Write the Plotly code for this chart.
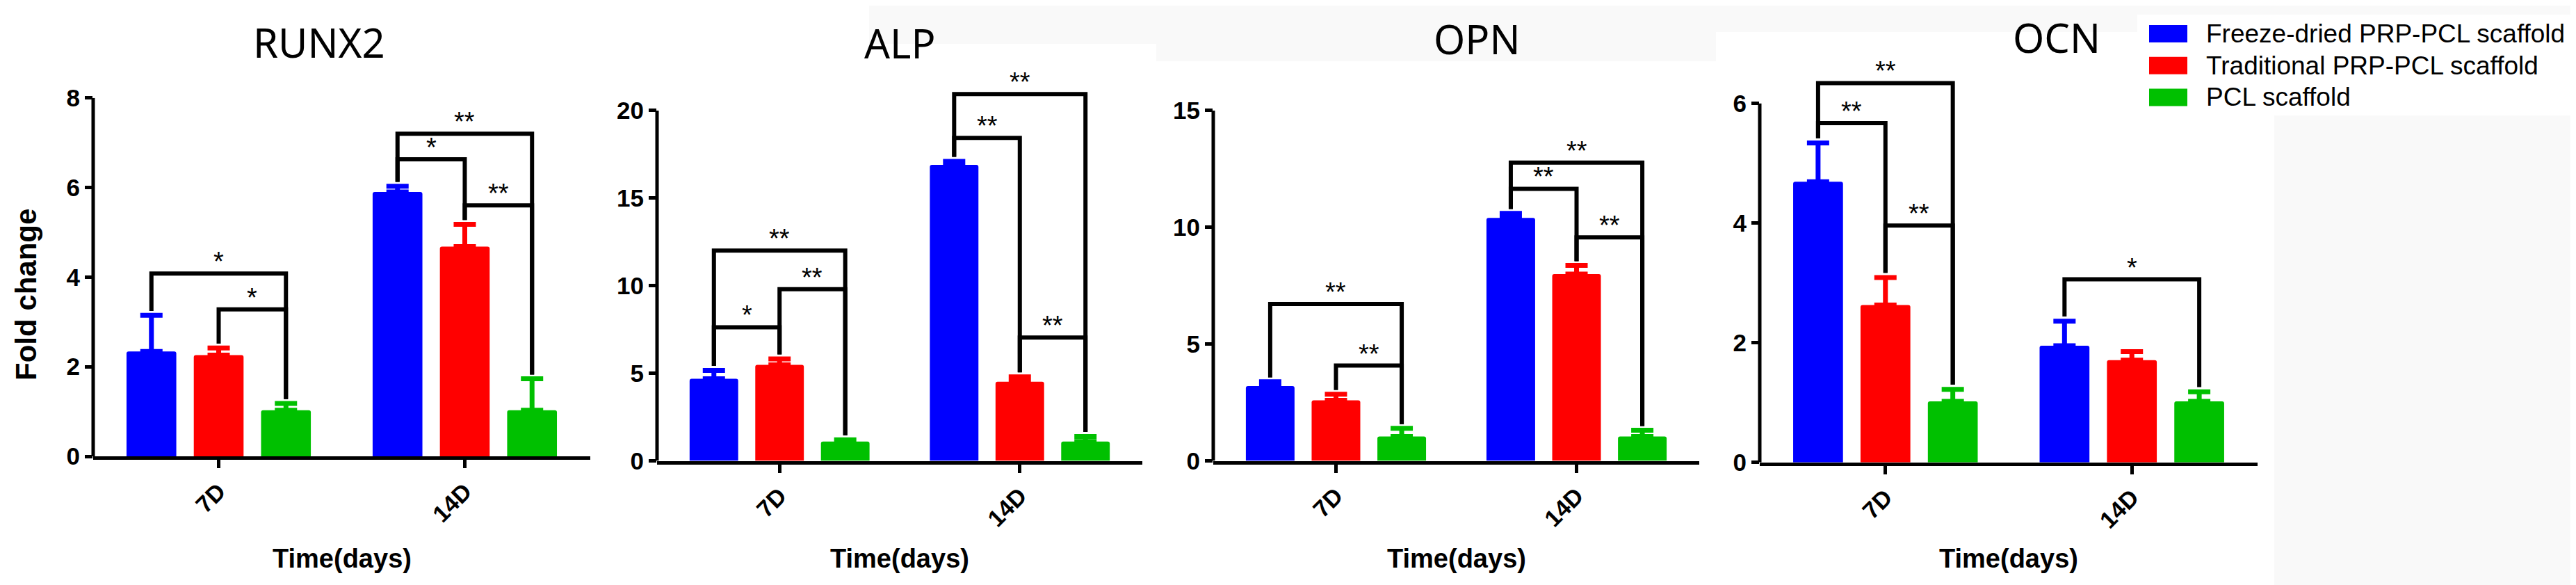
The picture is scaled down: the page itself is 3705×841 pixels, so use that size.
import plotly.graph_objects as go

W, H = 3705, 841

days = ["7D", "14D"]
groups = ["Freeze-dried PRP-PCL scaffold", "Traditional PRP-PCL scaffold", "PCL scaffold"]
colors = ["#0000ff", "#ff0000", "#00c000"]
genes = ["RUNX2", "ALP", "OPN", "OCN"]

# mean fold change per group (rows) and day (columns), with the upper error
runx2_mean = [[2.34, 5.90], [2.26, 4.68], [1.03, 1.03]]
runx2_err = [[0.81, 0.13], [0.16, 0.50], [0.15, 0.70]]
alp_mean = [[4.69, 16.9], [5.48, 4.52], [1.10, 1.10]]
alp_err = [[0.47, 0.20], [0.34, 0.28], [0.10, 0.29]]
opn_mean = [[3.20, 10.4], [2.59, 8.00], [1.04, 1.04]]
opn_err = [[0.19, 0.20], [0.26, 0.37], [0.35, 0.27]]
ocn_mean = [[4.69, 1.95], [2.63, 1.71], [1.02, 1.02]]
ocn_err = [[0.65, 0.41], [0.46, 0.14], [0.20, 0.16]]

# significance brackets: (day, from group, to group, height, label)
runx2_sig = [(0, 0, 2, 4.08, "*"), (0, 1, 2, 3.28, "*"),
             (1, 0, 2, 7.20, "**"), (1, 0, 1, 6.63, "*"), (1, 1, 2, 5.60, "**")]
alp_sig = [(0, 0, 2, 12.0, "**"), (0, 0, 1, 7.63, "*"), (0, 1, 2, 9.80, "**"),
           (1, 0, 2, 20.94, "**"), (1, 0, 1, 18.44, "**"), (1, 1, 2, 7.04, "**")]
opn_sig = [(0, 0, 2, 6.72, "**"), (0, 1, 2, 4.08, "**"),
           (1, 0, 2, 12.77, "**"), (1, 0, 1, 11.65, "**"), (1, 1, 2, 9.57, "**")]
ocn_sig = [(0, 0, 2, 6.34, "**"), (0, 0, 1, 5.67, "**"), (0, 1, 2, 3.96, "**"),
           (1, 0, 2, 3.06, "*")]

y_ticks = [[0, 2, 4, 6, 8], [0, 5, 10, 15, 20], [0, 5, 10, 15], [0, 2, 4, 6]]
y_max = [8.0, 21.5, 15.0, 6.6]

means = [runx2_mean, alp_mean, opn_mean, ocn_mean]
errs = [runx2_err, alp_err, opn_err, ocn_err]
sigs = [runx2_sig, alp_sig, opn_sig, ocn_sig]

# panel geometry in pixels: left, right, y of zero, pixels per unit
panels = [(126, 841, 648, 64.4), (937, 1635, 654.5, 25.18),
          (1737, 2436, 654.5, 33.57), (2523, 3239, 656.7, 86.0)]
title_pos = [(451, 52), (1286, 54), (2116, 48), (2950, 46)]

BARGAP = 0.18
slot = (1 - BARGAP) / 3

bold = "Liberation Sans"
fig = go.Figure()
shapes = []
annotations = []

# faint grey patches of the original screenshot
for x0, y0, x1, y1 in [(1242, 0, 1655, 55), (1655, 0, 2460, 80), (2460, 0, 3705, 13),
                       (2460, 13, 3066, 38), (3263, 158, 3705, 841)]:
    shapes.append(dict(type="rect", xref="paper", yref="paper", layer="below",
                       x0=x0 / W, x1=x1 / W, y0=1 - y0 / H, y1=1 - y1 / H,
                       fillcolor="#f9f9f9", line=dict(width=0)))

for i in range(4):
    ax = "" if i == 0 else str(i + 1)
    left, right, zero, ppu = panels[i]
    for g in range(3):
        fig.add_trace(go.Bar(
            x=days, y=means[i][g], name=groups[g], marker_color=colors[g],
            marker_line_width=0, marker_cornerradius=3, showlegend=False,
            error_y=dict(type="data", array=errs[i][g], arrayminus=[0, 0], symmetric=False,
                         color=colors[g], thickness=7, width=16),
            xaxis="x" + ax, yaxis="y" + ax))

    top_px = zero - y_max[i] * ppu
    fig.layout["xaxis" + ax] = dict(
        domain=[left / W, right / W], anchor="y" + ax, type="category",
        range=[-0.51, 1.51], showline=True, linewidth=5, linecolor="black",
        ticks="outside", ticklen=12, tickwidth=5, tickcolor="black", tickangle=-45,
        tickfont=dict(family=bold, size=34, color="black", weight="bold"),
        showgrid=False, zeroline=False, fixedrange=True, automargin=False)
    fig.layout["yaxis" + ax] = dict(
        domain=[1 - zero / H, 1 - top_px / H], anchor="x" + ax,
        range=[0, y_max[i]], tickvals=y_ticks[i], showline=False,
        ticks="outside", ticklen=11, tickwidth=5, tickcolor="black",
        tickfont=dict(family=bold, size=35, color="black", weight="bold"),
        showgrid=False, zeroline=False, fixedrange=True, automargin=False)

    # y axis line stops at the top tick
    shapes.append(dict(type="line", xref="x" + ax + " domain", yref="y" + ax,
                       x0=0, x1=0, y0=0, y1=y_ticks[i][-1],
                       line=dict(color="black", width=5)))

    gap = 0.012 * y_max[i]
    for day, ga, gb, h, lab in sigs[i]:
        xa = day + (ga - 1) * slot
        xb = day + (gb - 1) * slot
        ya = means[i][ga][day] + errs[i][ga][day] + gap
        yb = means[i][gb][day] + errs[i][gb][day] + gap
        shapes.append(dict(type="path", xref="x" + ax, yref="y" + ax,
                           path=f"M {xa},{ya} L {xa},{h} L {xb},{h} L {xb},{yb}",
                           line=dict(color="black", width=6)))
        annotations.append(dict(xref="x" + ax, yref="y" + ax, x=(xa + xb) / 2, y=h,
                                text=lab, showarrow=False, yanchor="bottom", yshift=-6,
                                font=dict(family=bold, size=38, color="black")))

    tx, ty = title_pos[i]
    annotations.append(dict(xref="paper", yref="paper", x=tx / W, y=1 - ty / H,
                            text=genes[i], showarrow=False, xanchor="center", yanchor="middle",
                            font=dict(family="Noto Sans", size=58, color="black")))
    annotations.append(dict(xref="paper", yref="paper", x=(left + right) / 2 / W,
                            y=1 - 795 / H, text="<b>Time(days)</b>", showarrow=False,
                            xanchor="center", yanchor="middle",
                            font=dict(family=bold, size=38, color="black")))

annotations.append(dict(xref="paper", yref="paper", x=29 / W, y=1 - 416 / H,
                        text="<b>Fold change</b>", textangle=-90, showarrow=False,
                        xanchor="center", yanchor="middle",
                        font=dict(family=bold, size=42, color="black")))

# legend drawn as boxes and labels
for g in range(3):
    yc = 40.5 + g * 45.7
    shapes.append(dict(type="rect", xref="paper", yref="paper",
                       x0=3083 / W, x1=3138 / W, y0=1 - (yc - 12.5) / H, y1=1 - (yc + 12.5) / H,
                       fillcolor=colors[g], line=dict(width=0)))
    annotations.append(dict(xref="paper", yref="paper", x=3163 / W, y=1 - yc / H,
                            text=groups[g], showarrow=False, xanchor="left", yanchor="middle",
                            font=dict(family="Liberation Sans", size=37, color="black")))

fig.update_layout(
    width=W, height=H, autosize=False,
    margin=dict(l=0, r=0, t=0, b=0),
    paper_bgcolor="white", plot_bgcolor="rgba(0,0,0,0)",
    barmode="group", bargap=BARGAP, bargroupgap=0.26,
    shapes=shapes, annotations=annotations, showlegend=False)

fig.write_html("out.html")
